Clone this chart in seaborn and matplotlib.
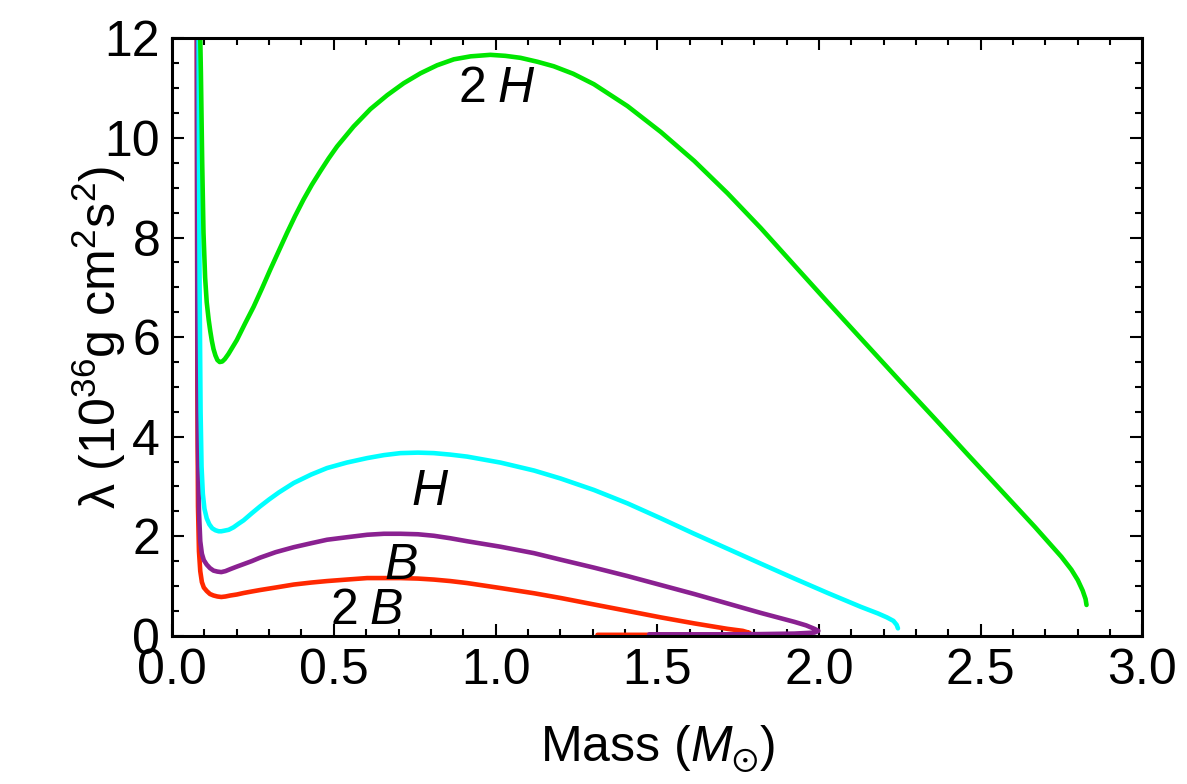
import numpy as np
import pandas as pd
import matplotlib
matplotlib.use("Agg")
import matplotlib.pyplot as plt
from matplotlib.ticker import MultipleLocator, FormatStrFormatter
import seaborn as sns

# ---------------- data ----------------
mass_2H = [0.087, 0.089, 0.091, 0.093, 0.097, 0.102, 0.107, 0.113, 0.118, 0.123,
           0.128, 0.134, 0.140, 0.147, 0.155, 0.163, 0.174, 0.187, 0.200, 0.226,
           0.252, 0.278, 0.303, 0.329, 0.355, 0.380, 0.406, 0.432, 0.458, 0.484,
           0.510, 0.561, 0.613, 0.665, 0.716, 0.768, 0.819, 0.871, 0.923, 0.984,
           1.030, 1.077, 1.130, 1.180, 1.240, 1.304, 1.408, 1.511, 1.614, 1.717,
           1.820, 1.924, 2.027, 2.151, 2.254, 2.357, 2.460, 2.563, 2.667, 2.749,
           2.780, 2.800, 2.815, 2.824, 2.827]
lam_2H = [12.0, 11.3, 10.4, 9.5, 8.1, 7.2, 6.7, 6.35, 6.12, 5.92,
          5.76, 5.63, 5.54, 5.50, 5.51, 5.56, 5.66, 5.80, 5.94, 6.28,
          6.61, 6.98, 7.35, 7.72, 8.09, 8.43, 8.76, 9.06, 9.33, 9.59,
          9.83, 10.23, 10.58, 10.86, 11.10, 11.30, 11.46, 11.58, 11.64, 11.67,
          11.65, 11.61, 11.53, 11.44, 11.29, 11.08, 10.64, 10.12, 9.54, 8.89,
          8.19, 7.44, 6.70, 5.82, 5.09, 4.37, 3.64, 2.92, 2.19, 1.59,
          1.33, 1.12, 0.91, 0.74, 0.62]

mass_H = [0.082, 0.083, 0.085, 0.088, 0.091, 0.095, 0.100, 0.107, 0.115, 0.124,
          0.134, 0.144, 0.152, 0.160, 0.175, 0.190, 0.205, 0.221, 0.246, 0.272,
          0.300, 0.330, 0.376, 0.430, 0.479, 0.540, 0.603, 0.655, 0.706, 0.760,
          0.809, 0.860, 0.912, 1.015, 1.119, 1.201, 1.304, 1.408, 1.511, 1.614,
          1.717, 1.820, 1.924, 2.027, 2.130, 2.182, 2.210, 2.230, 2.240, 2.244]
lam_H = [12.0, 10.0, 7.0, 4.5, 3.4, 2.85, 2.55, 2.36, 2.24, 2.16,
         2.12, 2.10, 2.10, 2.11, 2.13, 2.18, 2.25, 2.32, 2.46, 2.60,
         2.74, 2.88, 3.07, 3.24, 3.37, 3.48, 3.57, 3.63, 3.67, 3.68,
         3.67, 3.64, 3.60, 3.48, 3.32, 3.16, 2.93, 2.66, 2.36, 2.05,
         1.75, 1.45, 1.15, 0.86, 0.58, 0.45, 0.37, 0.30, 0.22, 0.15]

mass_B = [0.0765, 0.078, 0.080, 0.083, 0.087, 0.092, 0.098, 0.107, 0.117, 0.128,
          0.140, 0.152, 0.165, 0.180, 0.200, 0.221, 0.246, 0.272, 0.320, 0.376,
          0.430, 0.479, 0.540, 0.603, 0.655, 0.706, 0.760, 0.809, 0.860, 0.912,
          1.015, 1.119, 1.201, 1.304, 1.408, 1.511, 1.614, 1.717, 1.820, 1.924,
          1.960, 1.986, 1.998, 1.986, 1.924, 1.820, 1.717, 1.614, 1.511, 1.475]
lam_B = [12.0, 6.5, 3.8, 2.5, 1.90, 1.65, 1.52, 1.43, 1.36, 1.31,
         1.29, 1.28, 1.30, 1.34, 1.39, 1.44, 1.50, 1.57, 1.68, 1.78,
         1.86, 1.93, 1.98, 2.03, 2.05, 2.05, 2.04, 2.01, 1.96, 1.90,
         1.79, 1.66, 1.53, 1.37, 1.20, 1.02, 0.84, 0.65, 0.46, 0.28,
         0.21, 0.14, 0.10, 0.065, 0.045, 0.035, 0.03, 0.03, 0.03, 0.03]

mass_2B = [0.0765, 0.078, 0.080, 0.083, 0.087, 0.092, 0.098, 0.107, 0.117, 0.128,
           0.140, 0.152, 0.165, 0.180, 0.200, 0.221, 0.246, 0.272, 0.320, 0.376,
           0.430, 0.479, 0.540, 0.603, 0.655, 0.706, 0.760, 0.809, 0.860, 0.912,
           1.015, 1.119, 1.201, 1.304, 1.408, 1.511, 1.614, 1.717, 1.764, 1.785,
           1.775, 1.757, 1.700, 1.600, 1.500, 1.400, 1.315]
lam_2B = [12.0, 5.0, 2.6, 1.7, 1.30, 1.08, 0.97, 0.90, 0.84, 0.81,
          0.79, 0.78, 0.79, 0.81, 0.83, 0.86, 0.89, 0.92, 0.97, 1.03,
          1.07, 1.10, 1.13, 1.16, 1.16, 1.16, 1.15, 1.13, 1.10, 1.06,
          0.96, 0.855, 0.76, 0.63, 0.50, 0.37, 0.25, 0.14, 0.10, 0.06,
          0.04, 0.03, 0.025, 0.02, 0.02, 0.02, 0.02]

series_names = ["2B", "B", "H", "2H"]
series_colors = ["#FF2800", "#8A2191", "#00FFFF", "#00E600"]

label_texts = [r"$2\;H$", r"$H$", r"$B$", r"$2\;B$"]
label_x = [1.003, 0.799, 0.706, 0.601]
label_y = [10.72, 2.62, 1.15, 0.245]

x_ticks = [0.0, 0.5, 1.0, 1.5, 2.0, 2.5, 3.0]
y_ticks = [0, 2, 4, 6, 8, 10, 12]

# ---------------- style ----------------
sns.set_style("ticks")
plt.rcParams["font.family"] = ["Liberation Sans", "DejaVu Sans"]
plt.rcParams["mathtext.fontset"] = "custom"
plt.rcParams["mathtext.rm"] = "Liberation Sans"
plt.rcParams["mathtext.it"] = "Liberation Sans:italic"
plt.rcParams["mathtext.bf"] = "Liberation Sans:bold"
plt.rcParams["mathtext.fallback"] = "stixsans"
plt.rcParams["axes.labelcolor"] = "black"
plt.rcParams["text.color"] = "black"

FS = 36

fig = plt.figure(figsize=(11.87, 7.84), dpi=100)
ax = fig.add_axes([0.145, 0.189, 0.8175, 0.762])

data = {
    "2B": (mass_2B, lam_2B),
    "B": (mass_B, lam_B),
    "H": (mass_H, lam_H),
    "2H": (mass_2H, lam_2H),
}
for name, col in zip(series_names, series_colors):
    m, l = data[name]
    df = pd.DataFrame({"mass": m, "lam": l})
    sns.lineplot(data=df, x="mass", y="lam", sort=False, estimator=None,
                 color=col, lw=3.3, ax=ax,
                 solid_capstyle="round", solid_joinstyle="round")

for t, x, y in zip(label_texts, label_x, label_y):
    ax.text(x, y, t, ha="center", va="baseline", fontsize=FS, color="black")

ax.set_xlim(0, 3.0)
ax.set_ylim(0, 12)
ax.set_xticks(x_ticks)
ax.set_yticks(y_ticks)
ax.xaxis.set_major_formatter(FormatStrFormatter("%.1f"))
ax.yaxis.set_major_formatter(FormatStrFormatter("%d"))
ax.xaxis.set_minor_locator(MultipleLocator(0.1))
ax.yaxis.set_minor_locator(MultipleLocator(0.5))
ax.tick_params(which="both", direction="in", top=True, right=True,
               labelsize=FS, color="black", labelcolor="black")
ax.tick_params(which="major", length=8.6, width=1.5, pad=8.6)
ax.tick_params(which="minor", length=5.0, width=1.5)
for s in ax.spines.values():
    s.set_linewidth(2.2)
    s.set_color("black")

ax.set_xlabel(r"Mass $(M_{\odot})$", fontsize=FS, color="black")
ax.set_ylabel(r"λ (10$^{36}$g cm$^{2}$s$^{2}$)", fontsize=FS, color="black")
ax.xaxis.set_label_coords(0.5, -0.147)
ax.yaxis.set_label_coords(-0.045, 0.5)

fig.savefig("out.png", dpi=100)
